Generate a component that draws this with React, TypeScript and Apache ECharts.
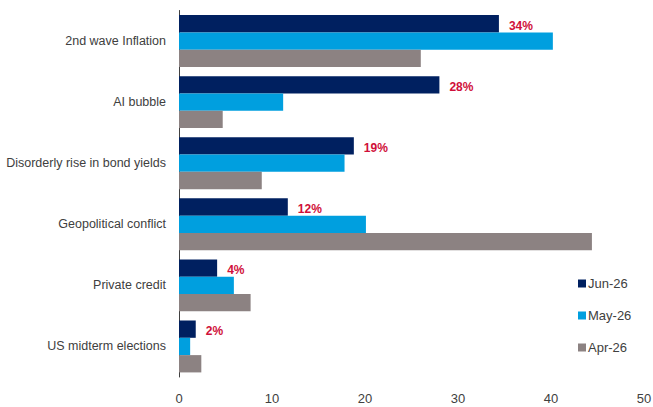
import React, { useEffect, useRef } from "react";
import * as echarts from "echarts";

const categories = [
  "2nd wave Inflation",
  "AI bubble",
  "Disorderly rise in bond yields",
  "Geopolitical conflict",
  "Private credit",
  "US midterm elections",
];
const jun26 = [34.4, 28, 18.8, 11.7, 4.1, 1.8];
const may26 = [40.2, 11.2, 17.8, 20.1, 5.9, 1.2];
const apr26 = [26, 4.7, 8.9, 44.4, 7.7, 2.4];
const xTicks = { min: 0, max: 50, interval: 10 };

const FONT = "'Liberation Sans', Arial, sans-serif";

export default function App() {
  const ref = useRef<HTMLDivElement>(null);
  useEffect(() => {
    if (!ref.current) return;
    const chart = echarts.init(ref.current, undefined, { renderer: "svg" });
    chart.setOption({
      animation: false,
      textStyle: { fontFamily: FONT },
      grid: { left: 179, right: 9, top: 10.5, bottom: 30, containLabel: false, outerBoundsMode: "none" },
      legend: {
        orient: "vertical",
        left: 573,
        top: 272,
        itemWidth: 8,
        itemHeight: 8,
        itemGap: 19,
        icon: "rect",
        textStyle: { fontFamily: FONT, fontSize: 13, color: "#404040", padding: [0, 0, 0, -3] },
        data: ["Jun-26", "May-26", "Apr-26"],
      },
      xAxis: {
        type: "value",
        min: xTicks.min,
        max: xTicks.max,
        interval: xTicks.interval,
        axisLine: { show: false },
        axisTick: { show: false },
        splitLine: { show: false },
        axisLabel: { color: "#404040", fontSize: 13, fontFamily: FONT, margin: 15 },
      },
      yAxis: {
        type: "category",
        data: categories,
        inverse: true,
        axisLine: { show: true, lineStyle: { color: "#404040", width: 1 } },
        axisTick: { show: false },
        axisLabel: { color: "#404040", fontSize: 12.5, fontFamily: FONT, margin: 13 },
      },
      series: [
        {
          name: "Jun-26",
          type: "bar",
          data: jun26,
          barGap: "0%",
          barCategoryGap: "15%",
          itemStyle: { color: "#002060" },
          label: {
            show: true,
            position: "right",
            distance: 10,
            offset: [0, 2],
            color: "#D0103A",
            fontWeight: "bold",
            fontSize: 12,
            fontFamily: FONT,
            formatter: (p: any) => Math.round(p.value) + "%",
          },
        },
        {
          name: "May-26",
          type: "bar",
          data: may26,
          barGap: "0%",
          barCategoryGap: "15%",
          itemStyle: { color: "#009FDF" },
        },
        {
          name: "Apr-26",
          type: "bar",
          data: apr26,
          barGap: "0%",
          barCategoryGap: "15%",
          itemStyle: { color: "#8C8282" },
        },
      ],
    });
    return () => chart.dispose();
  }, []);
  return <div ref={ref} style={{ width: 653, height: 407, position: "absolute", left: 0, top: 0 }} />;
}
